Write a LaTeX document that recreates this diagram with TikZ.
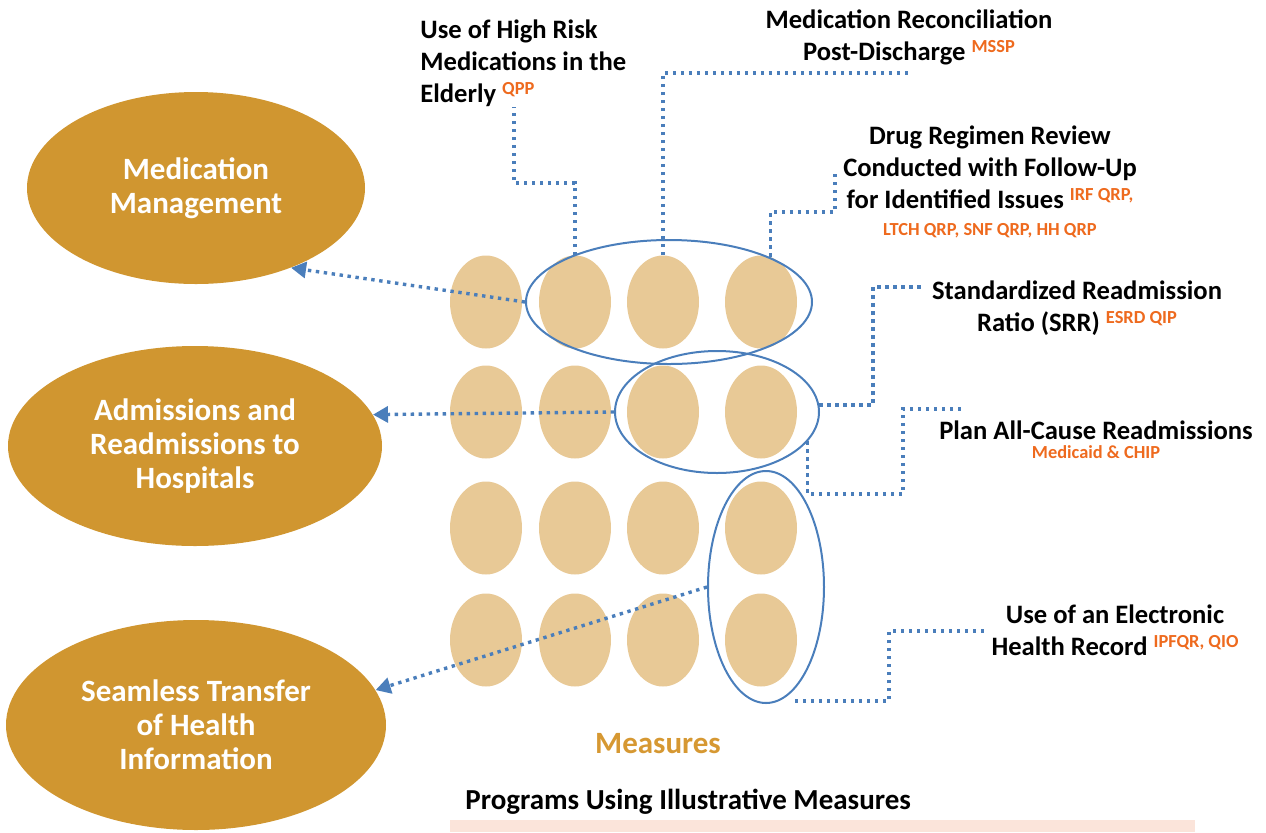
\documentclass[tikz,border=0pt]{standalone}
\usepackage{fontspec}
\setmainfont{Carlito}
\usetikzlibrary{shapes.geometric,arrows.meta}
\definecolor{topicgold}{RGB}{208,150,48}
\definecolor{meastan}{RGB}{232,201,150}
\definecolor{grpblue}{RGB}{74,126,187}
\definecolor{prgorange}{RGB}{238,106,30}
\definecolor{measgold}{RGB}{214,152,50}
\definecolor{barpink}{RGB}{251,228,218}
\newcommand\prgtxt[1]{{\fontsize{9.2}{10}\selectfont\color{prgorange}#1}}
\newcommand\prgsup[1]{\raisebox{4pt}{\prgtxt{#1}}}
\begin{document}
\begin{tikzpicture}[x=0.5pt,y=-0.5pt,
  topic/.style={ellipse,fill=topicgold,text=white,inner sep=0,align=center,font=\bfseries\fontsize{15.5}{17}\selectfont},
  measure/.style={ellipse,fill=meastan,minimum width=36pt,minimum height=46.5pt,inner sep=0},
  bundle/.style={ellipse,draw=grpblue,line width=1pt,inner sep=0},
  lbl/.style={inner sep=0,align=center,font=\bfseries\fontsize{13.3}{16}\selectfont},
  lead/.style={draw=grpblue,line width=1.7pt,dash pattern=on 1.7pt off 2.3pt},
  link/.style={lead,-{Triangle[length=7.5pt,width=8pt]}}]
\useasboundingbox (0,0) rectangle (1266,832);
\node[topic,minimum width=169pt,minimum height=96pt] (mm) at (196,188) {Medication\\Management};
\node[topic,minimum width=187pt,minimum height=100pt] (ar) at (195,446) {Admissions and\\Readmissions to\\Hospitals};
\node[topic,minimum width=190pt,minimum height=105pt] (st) at (196,725) {Seamless Transfer\\of Health\\Information};
\foreach \x [count=\i] in {486,575,663,761}
  \foreach \y [count=\j] in {302,412,528,640}
    \node[measure] (m\j\i) at (\x,\y) {};
\node[bundle,minimum width=143pt,minimum height=62pt] (g1) at (669,302) {};
\node[bundle,minimum width=102pt,minimum height=61pt] (g2) at (717,412) {};
\node[bundle,minimum width=58pt,minimum height=116pt] (g3) at (766,587) {};
\node[lbl,align=left,anchor=west] (qpp) at (420,63) {Use of High Risk\\Medications in the\\Elderly \prgsup{QPP}};
\node[lbl] (mssp) at (909,37) {Medication Reconciliation\\Post-Discharge \prgsup{MSSP}};
\node[lbl] (drug) at (990,182) {Drug Regimen Review\\Conducted with Follow-Up\\for Identified Issues \prgsup{IRF QRP,}\\[-2.5pt]\prgtxt{LTCH QRP, SNF QRP, HH QRP}};
\node[lbl] (srr) at (1077,308) {Standardized Readmission\\Ratio (SRR) \prgsup{ESRD QIP}};
\node[lbl] (plan) at (1096,440) {Plan All-Cause Readmissions\\[-6.5pt]\prgtxt{Medicaid \& CHIP}};
\node[lbl] (ehr) at (1115,630) {Use of an Electronic\\Health Record \prgsup{IPFQR, QIO}};
\coordinate (drugend) at (835,170);
\coordinate (srrend) at (925,287);
\coordinate (planend) at (963,409);
\coordinate (ehrend) at (987,631);
\draw[lead] (m12.north) |- (514,183) -- (qpp.south -| 514,0);
\draw[lead] (m13.north) |- ([yshift=-4pt]mssp.south);
\draw[lead] (m14.78) |- (835,212) -- (drugend);
\draw[lead] (g2.4) -| (873,287) -- (srrend);
\draw[lead] (g2.-18) |- (903,494) |- (planend);
\draw[lead] ([shift={(29,-3)}]g3.south) -| (889,631) -- (ehrend);
\draw[link] (g1.west) -- (mm.-40);
\draw[link] (g2.west) -- (ar.10);
\draw[link] (g3.west) -- (st.11);
\node[inner sep=0,text=measgold,font=\bfseries\fontsize{15.5}{17}\selectfont] (meas) at (658,744) {Measures};
\node[inner sep=0,anchor=west,font=\bfseries\fontsize{14.5}{17}\selectfont] (prog) at (465,802) {Programs Using Illustrative Measures};
\fill[barpink] (450,820) rectangle (1195,832);
\end{tikzpicture}
\end{document}
